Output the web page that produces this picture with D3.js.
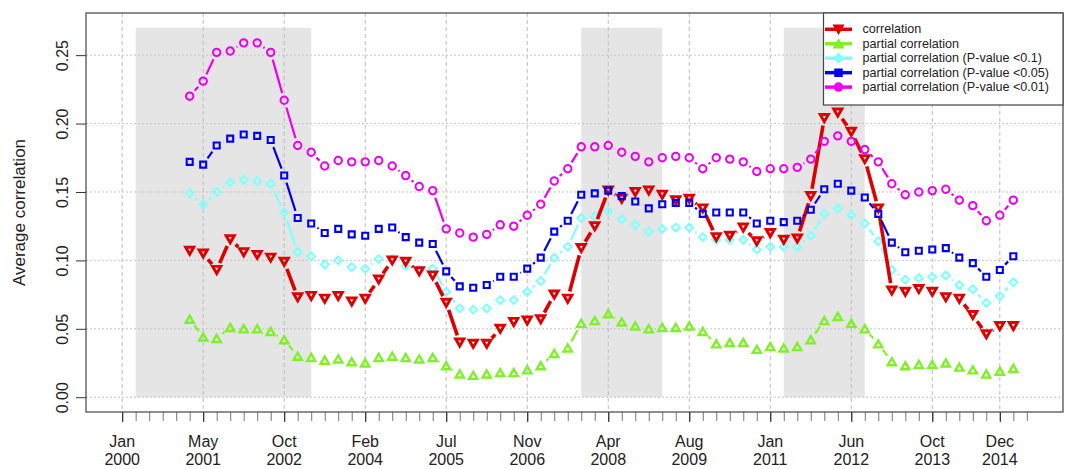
<!DOCTYPE html>
<html>
<head>
<meta charset="utf-8">
<script src="https://cdn.jsdelivr.net/npm/d3@7"></script>
<style>
  html, body { margin: 0; padding: 0; background: #fff; }
  svg { display: block; font-family: "Liberation Sans", Arial, sans-serif; }
</style>
</head>
<body>
<svg id="chart" width="1072" height="469"></svg>
<script>
// Rolling-window observations are indexed 5..66 along the time axis.
const firstIndex = 5;

const correlation = [0.107, 0.105, 0.093, 0.1155, 0.106, 0.104, 0.102, 0.099, 0.073, 0.074,
  0.072, 0.074, 0.070, 0.072, 0.086, 0.100, 0.099, 0.092, 0.089, 0.069,
  0.040, 0.039, 0.039, 0.050, 0.055, 0.056, 0.057, 0.075, 0.072, 0.109,
  0.125, 0.151, 0.145, 0.150, 0.151, 0.148, 0.144, 0.145, 0.138, 0.117,
  0.118, 0.124, 0.114, 0.120, 0.115, 0.116, 0.147, 0.204, 0.208, 0.194,
  0.174, 0.138, 0.078, 0.077, 0.079, 0.077, 0.073, 0.072, 0.060, 0.046,
  0.052, 0.052];

const partial = [0.057, 0.044, 0.043, 0.051, 0.050, 0.050, 0.048, 0.042, 0.030, 0.029,
  0.027, 0.028, 0.026, 0.025, 0.029, 0.030, 0.029, 0.028, 0.029, 0.023,
  0.017, 0.016, 0.017, 0.018, 0.018, 0.020, 0.023, 0.032, 0.036, 0.054,
  0.056, 0.061, 0.055, 0.052, 0.050, 0.051, 0.051, 0.052, 0.048, 0.039,
  0.040, 0.040, 0.035, 0.037, 0.036, 0.037, 0.042, 0.056, 0.059, 0.054,
  0.050, 0.039, 0.026, 0.023, 0.024, 0.024, 0.025, 0.022, 0.020, 0.017,
  0.019, 0.021];

const partialP10 = [0.149, 0.141, 0.150, 0.157, 0.159, 0.158, 0.156, 0.135, 0.106, 0.103,
  0.097, 0.100, 0.095, 0.094, 0.101, 0.101, 0.096, 0.093, 0.094, 0.077,
  0.065, 0.064, 0.065, 0.071, 0.071, 0.077, 0.085, 0.102, 0.110, 0.131,
  0.132, 0.136, 0.130, 0.126, 0.121, 0.123, 0.124, 0.124, 0.117, 0.115,
  0.115, 0.115, 0.108, 0.110, 0.110, 0.110, 0.118, 0.134, 0.138, 0.133,
  0.127, 0.114, 0.093, 0.086, 0.087, 0.088, 0.089, 0.082, 0.079, 0.069,
  0.074, 0.084];

const partialP05 = [0.172, 0.170, 0.184, 0.189, 0.192, 0.191, 0.188, 0.162, 0.131, 0.127,
  0.120, 0.123, 0.119, 0.118, 0.123, 0.124, 0.117, 0.113, 0.112, 0.092,
  0.081, 0.080, 0.082, 0.088, 0.088, 0.094, 0.102, 0.121, 0.129, 0.148,
  0.149, 0.151, 0.147, 0.143, 0.138, 0.141, 0.142, 0.142, 0.134, 0.135,
  0.135, 0.135, 0.127, 0.129, 0.128, 0.129, 0.137, 0.152, 0.156, 0.151,
  0.146, 0.134, 0.113, 0.106, 0.107, 0.108, 0.109, 0.102, 0.098, 0.088,
  0.093, 0.103];

const partialP01 = [0.220, 0.231, 0.252, 0.253, 0.259, 0.259, 0.252, 0.217, 0.184, 0.179,
  0.169, 0.173, 0.172, 0.172, 0.173, 0.169, 0.162, 0.154, 0.151, 0.123,
  0.120, 0.117, 0.119, 0.126, 0.125, 0.133, 0.141, 0.158, 0.167, 0.183,
  0.183, 0.184, 0.179, 0.176, 0.172, 0.175, 0.176, 0.175, 0.167, 0.175,
  0.174, 0.172, 0.165, 0.167, 0.167, 0.168, 0.174, 0.187, 0.191, 0.187,
  0.181, 0.172, 0.156, 0.148, 0.150, 0.151, 0.152, 0.144, 0.140, 0.129,
  0.133, 0.144];

// Labelled time positions on the index axis
const tickIndex = [0, 6, 12, 18, 24, 30, 36, 42, 48, 54, 60, 65];
const tickMonth = ["Jan", "May", "Oct", "Feb", "Jul", "Nov", "Apr", "Aug", "Jan", "Jun", "Oct", "Dec"];
const tickYear = ["2000", "2001", "2002", "2004", "2005", "2006", "2008", "2009", "2011", "2012", "2013", "2014"];
const minorTickRange = [0, 67];

const yTicks = [0, 0.05, 0.10, 0.15, 0.20, 0.25];

// Crisis periods (index start, index end)
const shadeStart = [1, 34, 49];
const shadeEnd = [14, 40, 55];
const shadeTop = 0.27;

const seriesNames = ["correlation", "partial correlation", "partial correlation (P-value <0.1)",
  "partial correlation (P-value <0.05)", "partial correlation (P-value <0.01)"];

// ---- layout ----
const svg = d3.select("#chart");
const plot = { left: 86, right: 1063, top: 13, bottom: 412 };

const xData = [minorTickRange[0], minorTickRange[1]];
const xPad = (xData[1] - xData[0]) * 0.04;
const x = d3.scaleLinear().domain([xData[0] - xPad, xData[1] + xPad]).range([plot.left, plot.right]);
const yData = [0, shadeTop];
const yPad = (yData[1] - yData[0]) * 0.04;
const y = d3.scaleLinear().domain([yData[0] - yPad, yData[1] + yPad]).range([plot.bottom, plot.top]);

svg.append("rect").attr("width", 1072).attr("height", 469).attr("fill", "#fff");

// shaded periods
svg.append("g").selectAll("rect").data(d3.range(shadeStart.length)).join("rect")
  .attr("x", i => x(shadeStart[i]))
  .attr("width", i => x(shadeEnd[i]) - x(shadeStart[i]))
  .attr("y", y(shadeTop))
  .attr("height", y(0) - y(shadeTop))
  .attr("fill", "#e5e5e5");

// grid
const grid = svg.append("g");
grid.selectAll("line.v").data(tickIndex).join("line")
  .attr("x1", d => x(d)).attr("x2", d => x(d))
  .attr("y1", plot.top).attr("y2", plot.bottom)
  .attr("stroke", "#bdbdbd").attr("stroke-width", 1).attr("stroke-dasharray", "4,3");
grid.selectAll("line.h").data(yTicks).join("line")
  .attr("x1", plot.left).attr("x2", plot.right)
  .attr("y1", d => y(d)).attr("y2", d => y(d))
  .attr("stroke", "#c4c4c4").attr("stroke-width", 1).attr("stroke-dasharray", "2,2");

// axes
const fontSize = 16;
const yAxis = d3.axisLeft(y).tickValues(yTicks).tickSize(10).tickFormat(d3.format(".2f"));
const gy = svg.append("g").attr("transform", `translate(${plot.left},0)`).call(yAxis);
gy.select(".domain").remove();
gy.selectAll(".tick line").attr("stroke", "#333");
gy.selectAll(".tick text")
  .attr("font-size", fontSize).attr("fill", "#222")
  .attr("x", null).attr("dy", null)
  .attr("text-anchor", "middle")
  .attr("dominant-baseline", "central")
  .attr("transform", "translate(-24,0) rotate(-90)");

const xMinor = d3.axisBottom(x).tickValues(d3.range(minorTickRange[0], minorTickRange[1] + 1)).tickSize(9).tickFormat("");
const gxm = svg.append("g").attr("transform", `translate(0,${plot.bottom})`).call(xMinor);
gxm.select(".domain").remove();
gxm.selectAll(".tick line").attr("stroke", "#777");

const xMajor = d3.axisBottom(x).tickValues(tickIndex).tickSize(10).tickFormat("");
const gx = svg.append("g").attr("transform", `translate(0,${plot.bottom})`).call(xMajor);
gx.select(".domain").remove();
gx.selectAll(".tick line").attr("stroke", "#222");
const labels = svg.append("g").attr("font-size", fontSize).attr("fill", "#222").attr("text-anchor", "middle");
labels.selectAll("text.m").data(tickIndex).join("text")
  .attr("x", d => x(d)).attr("y", 446.5).text((d, i) => tickMonth[i]);
labels.selectAll("text.yr").data(tickIndex).join("text")
  .attr("x", d => x(d)).attr("y", 465).text((d, i) => tickYear[i]);

svg.append("text")
  .attr("transform", `translate(19,${(plot.top + plot.bottom) / 2}) rotate(-90)`)
  .attr("text-anchor", "middle").attr("dominant-baseline", "central")
  .attr("font-size", 17).attr("fill", "#222")
  .text("Average correlation");

// ---- marker shapes ----
function triDown(s) { const h = s * Math.sqrt(3) / 2; return `M${-s/2},${-h/2}L${s/2},${-h/2}L0,${h/2}Z`; }
function triUp(s) { const h = s * Math.sqrt(3) / 2; return `M${-s/2},${h/2}L${s/2},${h/2}L0,${-h/2}Z`; }
function diamond(r) { return `M0,${-r}L${r},0L0,${r}L${-r},0Z`; }
function square(s) { return `M${-s/2},${-s/2}h${s}v${s}h${-s}Z`; }
function circle(r) { return `M${r},0A${r},${r} 0 1,1 ${-r},0A${r},${r} 0 1,1 ${r},0Z`; }

const series = [
  { name: seriesNames[1], values: partial,     color: "#7ff02a", lw: 2.2, shape: triUp(8.2),   mw: 2.4, legendShape: triUp(9.5) },
  { name: seriesNames[2], values: partialP10,  color: "#80ffff", lw: 2.2, shape: diamond(3.9), mw: 2.1, legendShape: diamond(4.6) },
  { name: seriesNames[0], values: correlation, color: "#dd0000", lw: 3.6, shape: triDown(8.2), mw: 2.9, legendShape: triDown(9.5) },
  { name: seriesNames[3], values: partialP05,  color: "#0000ee", lw: 2.2, shape: square(6.0),  mw: 2.1, legendShape: square(7) },
  { name: seriesNames[4], values: partialP01,  color: "#ee00ee", lw: 2.2, shape: circle(3.7),  mw: 2.0, legendShape: circle(4) }
];

const gap = 7.5;
const plotG = svg.append("g");
series.forEach(s => {
  const pts = s.values.map((v, i) => [x(firstIndex + i), y(v)]);
  // connecting segments, trimmed around each point
  const segs = [];
  for (let i = 0; i < pts.length - 1; i++) {
    const [x0, y0] = pts[i], [x1, y1] = pts[i + 1];
    const len = Math.hypot(x1 - x0, y1 - y0);
    if (len > 2 * gap) {
      const ux = (x1 - x0) / len, uy = (y1 - y0) / len;
      segs.push([x0 + ux * gap, y0 + uy * gap, x1 - ux * gap, y1 - uy * gap]);
    }
  }
  plotG.append("g").selectAll("line").data(segs).join("line")
    .attr("x1", d => d[0]).attr("y1", d => d[1]).attr("x2", d => d[2]).attr("y2", d => d[3])
    .attr("stroke", s.color).attr("stroke-width", s.lw).attr("stroke-linecap", "butt");
  plotG.append("g").selectAll("path").data(pts).join("path")
    .attr("transform", d => `translate(${d[0]},${d[1]})`)
    .attr("d", s.shape)
    .attr("fill", "none").attr("stroke", s.color).attr("stroke-width", s.mw)
    .attr("stroke-linejoin", "miter");
});

// plot frame
svg.append("rect")
  .attr("x", plot.left).attr("y", plot.top)
  .attr("width", plot.right - plot.left).attr("height", plot.bottom - plot.top)
  .attr("fill", "none").attr("stroke", "#444").attr("stroke-width", 1.2);

// ---- legend ----
const legendOrder = [2, 0, 1, 3, 4];
const lg = svg.append("g");
const lgBox = { x: 823.5, y: plot.top, w: plot.right - 823.5, h: 92 };
lg.append("rect").attr("x", lgBox.x).attr("y", lgBox.y).attr("width", lgBox.w).attr("height", lgBox.h)
  .attr("fill", "#fff").attr("stroke", "#444").attr("stroke-width", 1.2);
legendOrder.forEach((si, row) => {
  const s = series[si];
  const cy = 29.3 + row * 14.45;
  lg.append("line").attr("x1", 825).attr("x2", 852).attr("y1", cy).attr("y2", cy)
    .attr("stroke", s.color).attr("stroke-width", 3.5);
  lg.append("path").attr("transform", `translate(838.5,${cy})`).attr("d", s.legendShape)
    .attr("fill", s.color).attr("stroke", s.color).attr("stroke-width", 1.5);
  lg.append("text").attr("x", 862.5).attr("y", cy).attr("dominant-baseline", "central")
    .attr("font-size", 12.6).attr("fill", "#222").text(s.name);
});
</script>
</body>
</html>
